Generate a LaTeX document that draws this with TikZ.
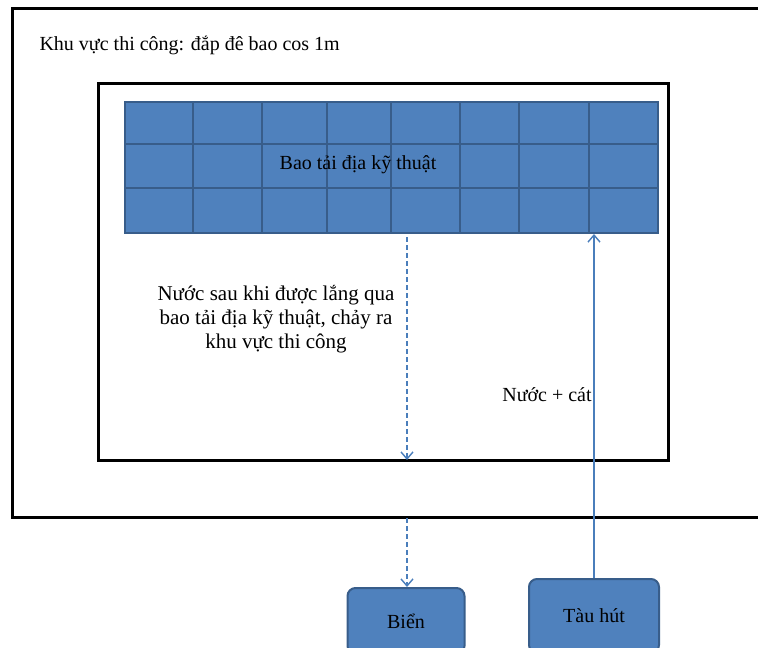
\documentclass[tikz,border=0pt]{standalone}
\usepackage{fontspec}
\setmainfont{Liberation Serif}
\usepackage{xcolor}
\usetikzlibrary{arrows.meta, positioning, calc}
\definecolor{baoblue}{RGB}{79,129,189}
\definecolor{baoedge}{RGB}{56,93,138}
\definecolor{flowblue}{RGB}{74,126,187}

\tikzset{
    vung/.style={draw=black,line width=3pt},
    hop/.style={rectangle,rounded corners=8pt,draw=baoedge,fill=baoblue,line width=2pt,font=\fontsize{20}{24}\selectfont},
    nhan/.style={font=\fontsize{20}{24}\selectfont},
    dong/.style={draw=flowblue,line width=1.4pt,-{Straight Barb[length=7pt,width=12pt]}}
}

\begin{document}
\begin{tikzpicture}[x=1pt,y=-1pt]
    \useasboundingbox (0,0) rectangle (758,648);
    \clip (0,0) rectangle (758,648);

    % Khu vuc thi cong
    \draw[vung] (12,8) rectangle (790,517);
    \node[nhan,anchor=west] (khu) at (36,45) {Khu vực thi công: đắp đê bao cos 1m};

    % Khung ben trong
    \draw[vung] (98,83) rectangle (668,460);

    % Bao tai dia ky thuat
    \node[rectangle,draw=baoedge,fill=baoblue,line width=2pt,minimum width=533pt,minimum height=131pt,anchor=north west] (bao) at (124,101) {};
    \foreach \x in {193,262,327,391,460,519,589}
        \draw[baoedge,line width=2pt] (\x,101) -- (\x,232);
    \foreach \y in {144,188}
        \draw[baoedge,line width=2pt] (124,\y) -- (657,\y);
    \node[nhan] (baolabel) at (358,165) {Bao tải địa kỹ thuật};

    % Ghi chu
    \node[nhan,align=center,font=\fontsize{21}{24}\selectfont] (nuocsau) at (276,319) {Nước sau khi được lắng qua\\bao tải địa kỹ thuật, chảy ra\\khu vực thi công};
    \node[nhan] (nuoccat) at (547,395) {Nước + cát};

    % Bien va tau hut
    \node[hop,minimum width=117pt,minimum height=66pt,anchor=north] (bien) at (406,587) {Biển};
    \node[hop,minimum width=130pt,minimum height=74pt,anchor=north] (tau) at (594,578) {Tàu hút};

    % Dong chay
    \coordinate (d1) at (407,237);
    \coordinate (d2) at (407,460);
    \coordinate (d3) at (407,518);
    \draw[dong,dash pattern=on 5pt off 3pt] (d1) -- (d2);
    \draw[dong,dash pattern=on 5pt off 3pt] (d3) -- (bien.north -| d3);
    \draw[dong] (tau.north) -- (tau.north |- bao.south);
\end{tikzpicture}
\end{document}
